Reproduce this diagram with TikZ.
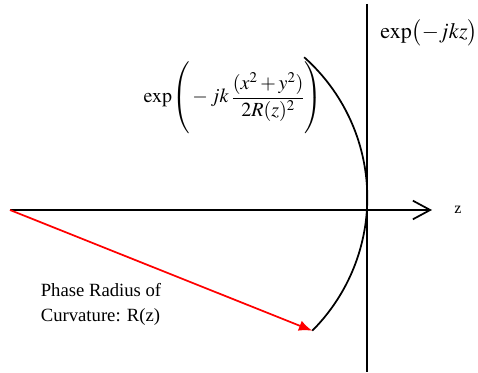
\documentclass[tikz,border=0pt]{standalone}
\usepackage{amsmath}
\usepackage{mathptmx}
\usepackage{fontspec}
\newfontfamily\capfont{Liberation Serif}
\usepackage{tikz}
\usetikzlibrary{arrows.meta}

\begin{document}
\begin{tikzpicture}[x=0.75pt,y=0.75pt,line width=1.3pt,
   zaxis/.style={-{Straight Barb[length=13pt,width=14pt,line width=1.3pt]}},
   rarrow/.style={red,-{Latex[length=10pt,width=8pt]}},
   formula/.style={inner sep=0pt,font=\fontsize{15}{18}\selectfont}]
\useasboundingbox (0,0) rectangle (478,373);
% axis and planes
\coordinate (origin) at (10,163);
\coordinate (zend) at (432,163);
\coordinate (ptop) at (367,369);
\coordinate (pbot) at (367,1);
\draw[zaxis] (origin) -- (zend);
\draw (ptop) -- (pbot);
% curved wavefront
\coordinate (ctr) at (179.3,175.2);
\path (ctr) ++(48.4:188) coordinate (wtop);
\draw (wtop) arc[start angle=48.4,end angle=-45,radius=188] coordinate (wbot);
\draw[rarrow] (origin) -- (wbot);
% labels
\node[inner sep=0pt,font=\capfont\fontsize{12}{14}\selectfont] (zlab) at (458,163) {z};
\node[formula,font=\fontsize{16.5}{19}\selectfont] (plane) at (429,340) {$\exp\bigl(-jkz\bigr)$};
\node[formula] (sphere) at (233,275) {$\exp\!\left(\rule[-22pt]{0pt}{52pt}-jk\,\dfrac{(x^2+y^2)}{2R(z)^2}\right)$};
\node[anchor=west,align=left,inner sep=0pt,font=\capfont\fontsize{14}{18.75}\selectfont] (rlab) at (40,69) {Phase Radius of\\Curvature: R(z)};
\end{tikzpicture}
\end{document}
